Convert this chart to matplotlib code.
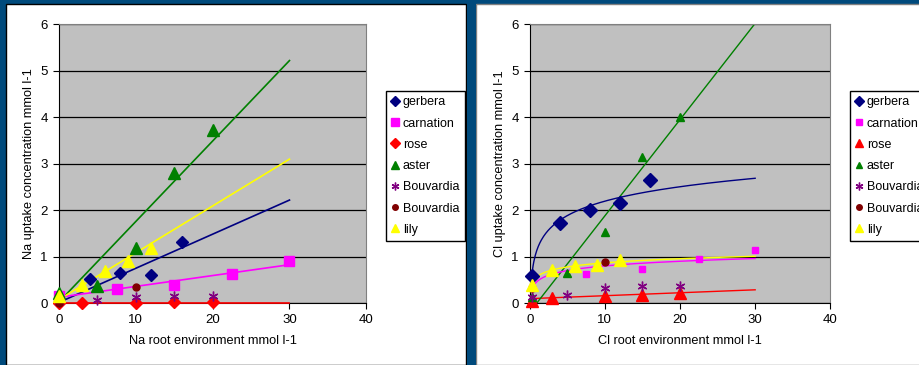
import numpy as np
import matplotlib
matplotlib.use("Agg")
import matplotlib.pyplot as plt
from matplotlib.patches import Rectangle

plt.rcParams['font.family'] = ['Liberation Sans', 'DejaVu Sans']

W, H = 919, 365

# ---- data ----
labels = ["gerbera", "carnation", "rose", "aster", "Bouvardia", "Bouvardia", "lily"]
colors = ["#000080", "#FF00FF", "#FF0000", "#008000", "#800080", "#800000", "#FFFF00"]

# Na chart
na_gerbera_x = [4, 8, 12, 16]
na_gerbera_y = [0.53, 0.65, 0.61, 1.32]
na_carnation_x = [0, 7.5, 15, 22.5, 30]
na_carnation_y = [0.15, 0.31, 0.40, 0.62, 0.90]
na_rose_x = [0, 3, 10, 15, 20]
na_rose_y = [0.0, 0.0, 0.0, 0.02, 0.02]
na_aster_x = [0, 5, 10, 15, 20]
na_aster_y = [0.23, 0.38, 1.18, 2.80, 3.72]
na_bouv1_x = [0, 5, 10, 15, 20]
na_bouv1_y = [0.02, 0.07, 0.13, 0.15, 0.15]
na_bouv2_x = [0, 10]
na_bouv2_y = [0.0, 0.36]
na_lily_x = [0, 3, 6, 9, 12]
na_lily_y = [0.15, 0.40, 0.70, 0.90, 1.20]

# Na trend lines (value at x=0 and x=30)
na_trend_x = [0, 30]
na_trend_gerbera = [0.02, 2.22]
na_trend_carnation = [0.13, 0.83]
na_trend_rose = [0.0, 0.0]
na_trend_aster = [0.03, 5.22]
na_trend_lily = [0.08, 3.10]

# Cl chart
cl_gerbera_x = [0.25, 4, 8, 12, 16]
cl_gerbera_y = [0.59, 1.72, 2.00, 2.15, 2.65]
cl_carnation_x = [0.25, 7.5, 15, 22.5, 30]
cl_carnation_y = [0.33, 0.62, 0.73, 0.95, 1.15]
cl_rose_x = [0.25, 3, 10, 15, 20]
cl_rose_y = [0.05, 0.11, 0.16, 0.18, 0.23]
cl_aster_x = [0.25, 5, 10, 15, 20]
cl_aster_y = [0.13, 0.65, 1.53, 3.15, 4.00]
cl_bouv1_x = [0.25, 5, 10, 15, 20]
cl_bouv1_y = [0.13, 0.18, 0.33, 0.37, 0.37]
cl_bouv2_x = [0.25, 10]
cl_bouv2_y = [0.33, 0.88]
cl_lily_x = [0.25, 3, 6, 9, 12]
cl_lily_y = [0.40, 0.72, 0.80, 0.82, 0.93]

cl_trend_x = [0, 30]
cl_trend_rose = [0.10, 0.29]
cl_trend_aster = [-0.19, 6.02]

BLUE = "#004A7C"
FS = 9.2

fig = plt.figure(figsize=(W / 100, H / 100), dpi=100)
fig.patch.set_facecolor(BLUE)

# white panels
fig.add_artist(Rectangle((6 / W, 0), 460 / W, 361 / H, transform=fig.transFigure,
                         facecolor="white", edgecolor="black", lw=1, zorder=0))
fig.add_artist(Rectangle((476 / W, 0), 460 / W, 361 / H, transform=fig.transFigure,
                         facecolor="white", edgecolor="#808080", lw=1, zorder=0))


def style_axes(ax, xlabel, ylabel):
    ax.set_facecolor("#C0C0C0")
    ax.set_xlim(0, 40)
    ax.set_ylim(0, 6)
    ax.set_xticks(range(0, 41, 10))
    ax.set_yticks(range(0, 7))
    ax.yaxis.grid(True, color="black", lw=0.9)
    ax.set_axisbelow(True)
    for s in ("top", "right"):
        ax.spines[s].set_color("#808080")
    for s in ("left", "bottom"):
        ax.spines[s].set_color("black")
    ax.tick_params(direction="out", length=4, width=0.8, labelsize=FS + 0.3, pad=4)
    ax.set_xlabel(xlabel, fontsize=FS, labelpad=6)
    ax.set_ylabel(ylabel, fontsize=FS, labelpad=4)


def legend(ax, left_px):
    lg = ax.legend(loc="upper left", bbox_to_anchor=(left_px / W, 1 - 90.7 / H),
                   bbox_transform=fig.transFigure, borderaxespad=0, fontsize=9.0,
                   frameon=True, fancybox=False, edgecolor="black", handlelength=0.6,
                   handletextpad=0.3, labelspacing=0.74, borderpad=0.45,
                   markerscale=0.8, framealpha=1)
    lg.get_frame().set_linewidth(1)
    return lg


# ---- Na chart ----
ax1 = fig.add_axes([59 / W, (H - 303.3) / H, 307.3 / W, 279 / H])
style_axes(ax1, "Na root environment mmol l-1", "Na uptake concentration mmol l-1")
for t, c in [(na_trend_gerbera, colors[0]), (na_trend_carnation, colors[1]),
             (na_trend_rose, colors[2]), (na_trend_aster, colors[3]),
             (na_trend_lily, colors[6])]:
    ax1.plot(na_trend_x, t, color=c, lw=1.2, zorder=2.6, clip_on=False)
na_series = [
    (na_gerbera_x, na_gerbera_y, "D", 6),
    (na_carnation_x, na_carnation_y, "s", 7),
    (na_rose_x, na_rose_y, "D", 6),
    (na_aster_x, na_aster_y, "^", 8),
    (na_bouv1_x, na_bouv1_y, (6, 2, 0), 7),
    (na_bouv2_x, na_bouv2_y, "o", 5),
    (na_lily_x, na_lily_y, "^", 8),
]
for (x, y, m, ms), lab, c in zip(na_series, labels, colors):
    ax1.plot(x, y, ls="none", marker=m, ms=ms, color=c, mec=c, mew=1,
             label=lab, clip_on=False, zorder=3)
legend(ax1, 386)

# ---- Cl chart ----
ax2 = fig.add_axes([529.7 / W, (H - 303.3) / H, 300.6 / W, 279 / H])
style_axes(ax2, "Cl root environment mmol l-1", "Cl uptake concentration mmol l-1")
ax2.plot(cl_trend_x, cl_trend_rose, color=colors[2], lw=1, zorder=2)
ax2.plot(cl_trend_x, cl_trend_aster, color=colors[3], lw=1, zorder=2)
# logarithmic trend lines fitted to the points
xs = np.linspace(0.25, 30, 300)
for x, y, c in [(cl_gerbera_x, cl_gerbera_y, colors[0]),
                (cl_carnation_x, cl_carnation_y, colors[1]),
                (cl_lily_x, cl_lily_y, colors[6])]:
    a, b = np.polyfit(np.log(x), y, 1)
    ax2.plot(xs, a * np.log(xs) + b, color=c, lw=1, zorder=2)
cl_series = [
    (cl_gerbera_x, cl_gerbera_y, "D", 7),
    (cl_carnation_x, cl_carnation_y, "s", 5),
    (cl_rose_x, cl_rose_y, "^", 8),
    (cl_aster_x, cl_aster_y, "^", 6),
    (cl_bouv1_x, cl_bouv1_y, (6, 2, 0), 7),
    (cl_bouv2_x, cl_bouv2_y, "o", 5),
    (cl_lily_x, cl_lily_y, "^", 8),
]
for (x, y, m, ms), lab, c in zip(cl_series, labels, colors):
    ax2.plot(x, y, ls="none", marker=m, ms=ms, color=c, mec=c, mew=1,
             label=lab, clip_on=False, zorder=3)
legend(ax2, 850)

# blue gap between the panels drawn over anything spilling into it
fig.add_artist(Rectangle((466.5 / W, 0), 9 / W, 1, transform=fig.transFigure,
                         facecolor=BLUE, edgecolor="none", zorder=10))

fig.savefig("out.png", dpi=100, facecolor=fig.get_facecolor())
